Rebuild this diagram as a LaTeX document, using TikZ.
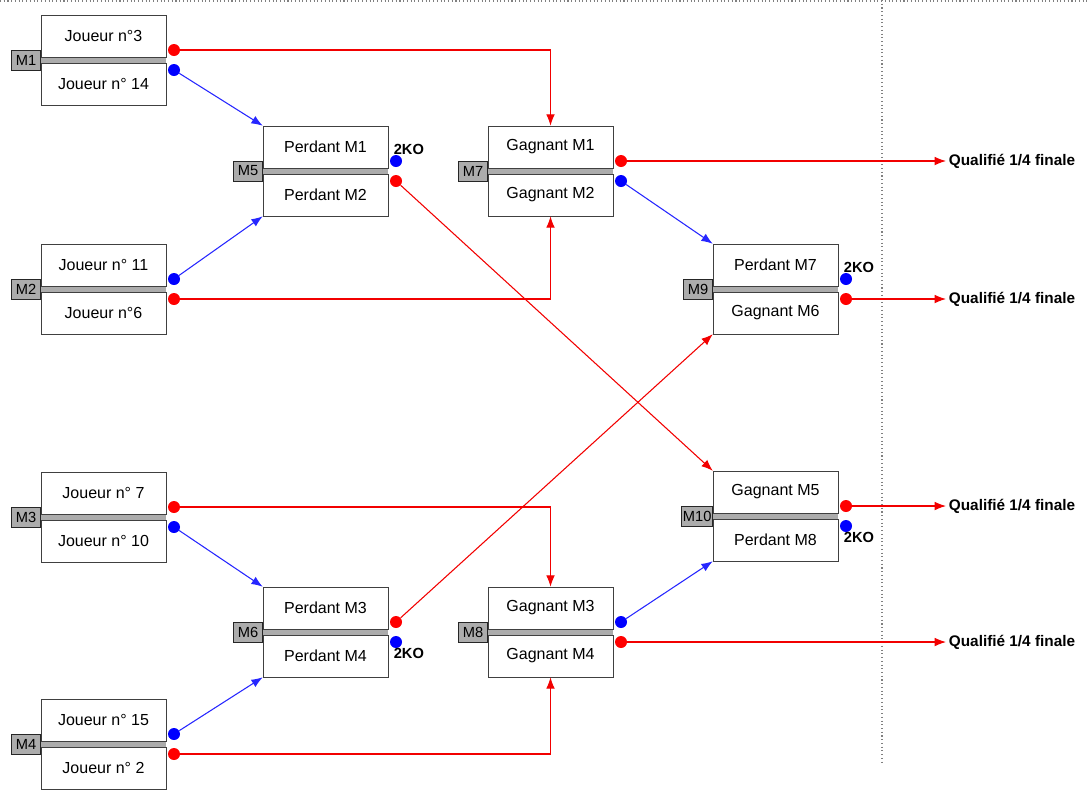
\documentclass[tikz,border=0pt]{standalone}
\usepackage{fontspec}
\setmainfont{Liberation Sans}
\usetikzlibrary{arrows.meta}
\begin{document}
\begin{tikzpicture}[x=0.75pt,y=-0.75pt]
      \tikzstyle{every node}=[font=\fontsize{12}{14}\selectfont]
      \tikzstyle{cell}=[draw=black!75,fill=white,minimum width=93.75pt,minimum height=31.5pt,inner sep=0pt]
      \tikzstyle{tag}=[draw=black!85,fill=gray!65,minimum width=22pt,minimum height=15pt,inner sep=1pt,anchor=east,font=\fontsize{11}{12}\selectfont]
      \tikzstyle{dot}=[circle,minimum size=9pt,inner sep=0pt]
      \tikzstyle{ko}=[font=\bfseries\fontsize{11}{12}\selectfont,inner sep=1.5pt]
      \tikzstyle{qual}=[anchor=west,font=\bfseries\fontsize{11.5}{13}\selectfont,inner sep=2pt]
      \tikzstyle{redline}=[-{Latex[length=8.5pt,width=6.5pt]},red!95!black,line width=0.8pt]
      \tikzstyle{blueline}=[-{Latex[length=8.5pt,width=6.5pt]},blue!85,line width=0.8pt]
      \useasboundingbox (0,0) rectangle (1087,790);

      \draw[gray,dotted,line width=0.8pt] (0,1) -- (1087,1);
      \draw[gray,dotted,line width=0.8pt] (882,0) -- (882,765);

      \foreach \n/\x/\d/\ta/\tb/\ca/\cb in {
        1/41/60/Joueur n°3/Joueur n° 14/red/blue,
        2/41/289/Joueur n° 11/Joueur n°6/blue/red,
        3/41/517/Joueur n° 7/Joueur n° 10/red/blue,
        4/41/744/Joueur n° 15/Joueur n° 2/blue/red,
        5/263/171/Perdant M1/Perdant M2/blue/red,
        6/263/632/Perdant M3/Perdant M4/red/blue,
        7/488/171/Gagnant M1/Gagnant M2/red/blue,
        8/488/632/Gagnant M3/Gagnant M4/blue/red,
        9/713/289/Perdant M7/Gagnant M6/blue/red,
        10/713/516/Gagnant M5/Perdant M8/red/blue}
      {
        \node[cell] (m\n a) at (\x+62.5,\d-24) {\ta};
        \node[cell] (m\n b) at (\x+62.5,\d+24) {\tb};
        \fill[gray!65] (m\n a.south west) rectangle (m\n b.north east);
        \draw[black!75] (m\n a.south west) -- (m\n a.south east);
        \node[tag] (t\n) at (\x,\d) {M\n};
        \node[dot,fill=\ca] (m\n\ca) at (\x+133,\d-10) {};
        \node[dot,fill=\cb] (m\n\cb) at (\x+133,\d+10) {};
      }

      \node[ko,anchor=south west] (k5) at (m5blue.north west) {2KO};
      \node[ko,anchor=north west] (k6) at (m6blue.south west) {2KO};
      \node[ko,anchor=south west] (k9) at (m9blue.north west) {2KO};
      \node[ko,anchor=north west] (k10) at (m10blue.south west) {2KO};

      \node[qual] (q7) at (946,161) {Qualifié 1/4 finale};
      \node[qual] (q9) at (946,299) {Qualifié 1/4 finale};
      \node[qual] (q10) at (946,506) {Qualifié 1/4 finale};
      \node[qual] (q8) at (946,642) {Qualifié 1/4 finale};

      \draw[redline] (m1red) -| (m7a);
      \draw[blueline] (m1blue) -- (m5a.north west);
      \draw[blueline] (m2blue) -- (m5b.south west);
      \draw[redline] (m2red) -| (m7b);
      \draw[redline] (m3red) -| (m8a);
      \draw[blueline] (m3blue) -- (m6a.north west);
      \draw[blueline] (m4blue) -- (m6b.south west);
      \draw[redline] (m4red) -| (m8b);

      \draw[redline] (m5red) -- (m10a.north west);
      \draw[redline] (m6red) -- (m9b.south west);
      \draw[blueline] (m7blue) -- (m9a.north west);
      \draw[blueline] (m8blue) -- (m10b.south west);

      \draw[redline] (m7red) -- (q7);
      \draw[redline] (m9red) -- (q9);
      \draw[redline] (m10red) -- (q10);
      \draw[redline] (m8red) -- (q8);
    \end{tikzpicture}
\end{document}
